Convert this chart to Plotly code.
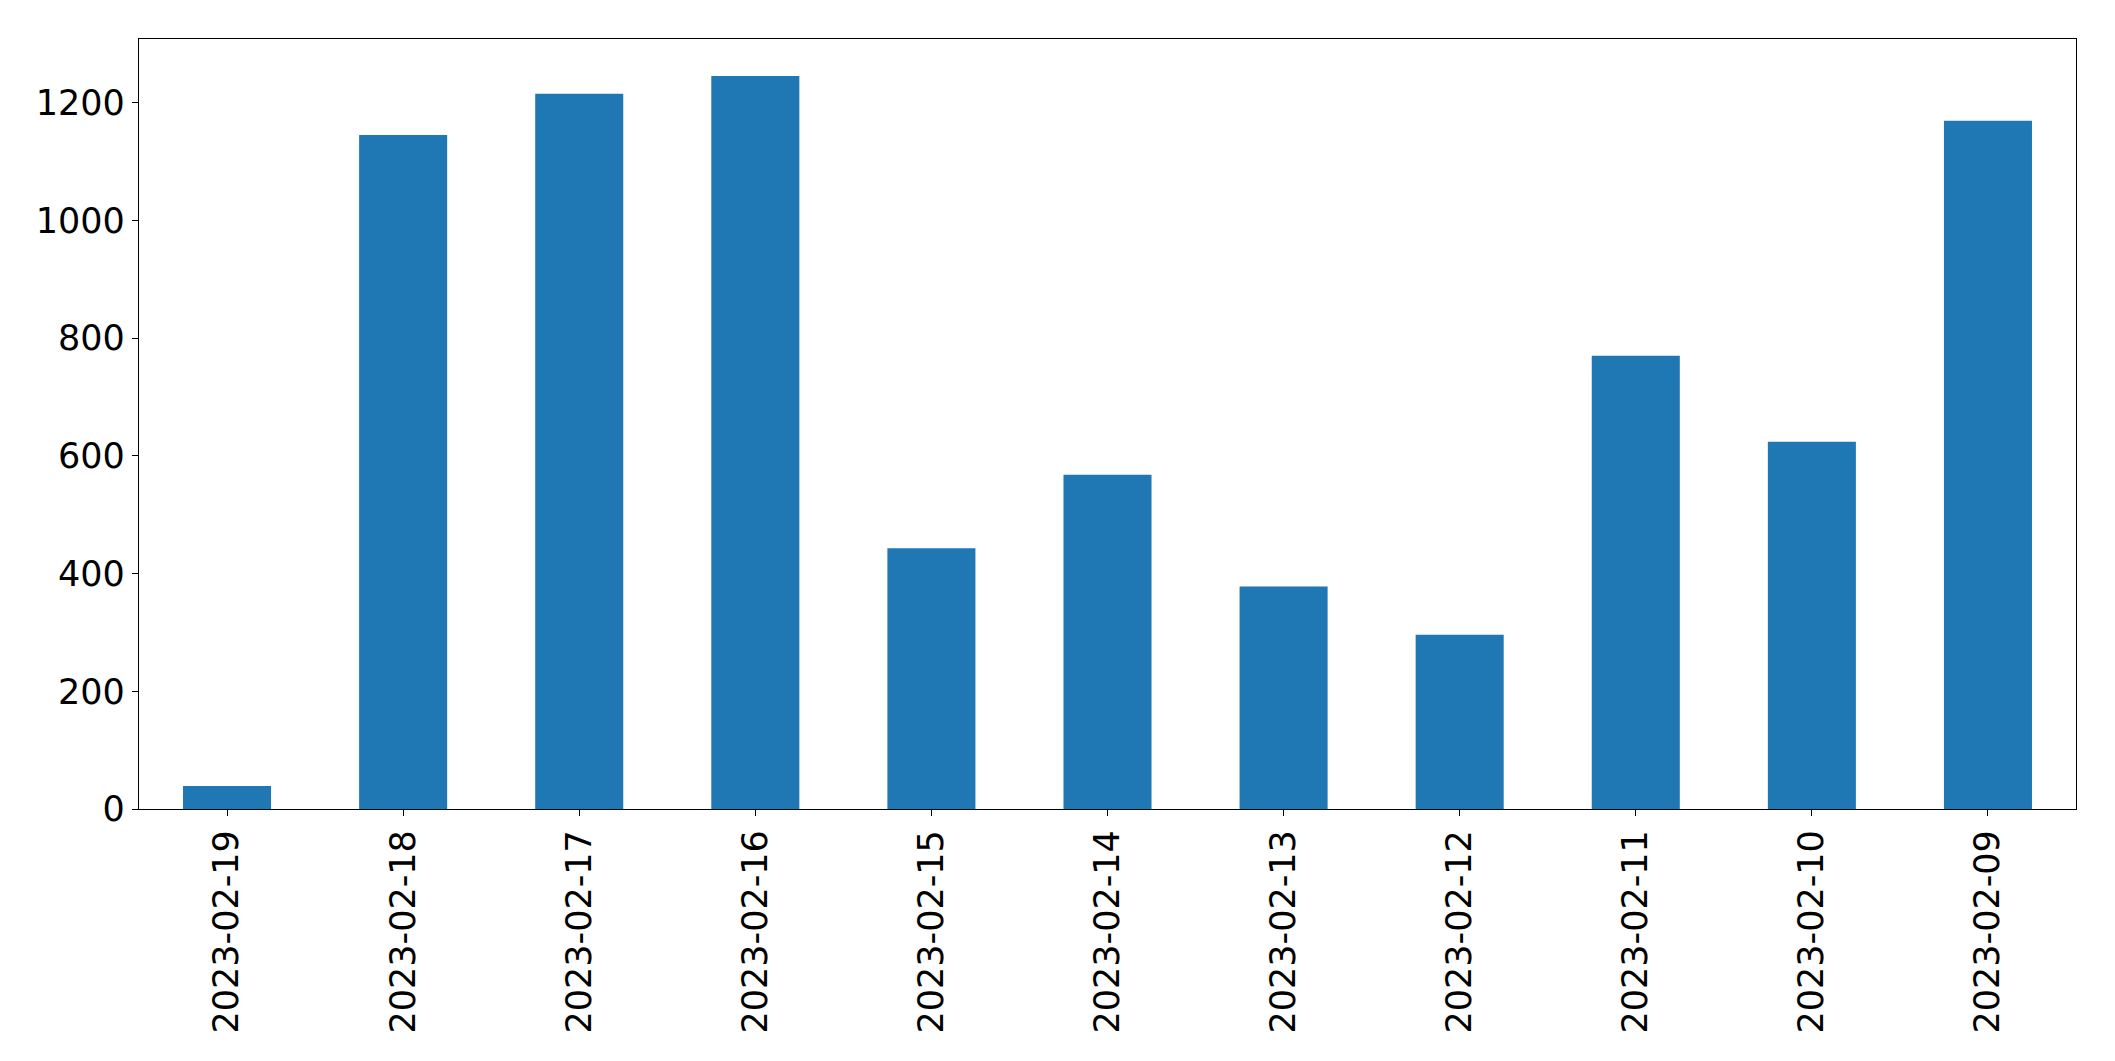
import plotly.graph_objects as go

dates = ["2023-02-19", "2023-02-18", "2023-02-17", "2023-02-16", "2023-02-15",
         "2023-02-14", "2023-02-13", "2023-02-12", "2023-02-11", "2023-02-10",
         "2023-02-09"]
counts = [39, 1145, 1215, 1245, 443, 568, 378, 296, 770, 624, 1169]
y_ticks = [0, 200, 400, 600, 800, 1000, 1200]

fig = go.Figure(go.Bar(x=dates, y=counts, marker_color="#1f77b4",
                       marker_line_width=0, width=0.5))

font = dict(family="DejaVu Sans", size=35, color="black")
# page body has an 8px default margin; compensate so the plot area lands
# at x 139..2076, y 39..809 in the window
fig.update_layout(
    width=2099, height=1045,
    margin=dict(l=131, r=31, t=31, b=244),
    paper_bgcolor="white", plot_bgcolor="white",
    showlegend=False,
    font=font,
)
fig.update_xaxes(type="category", range=[-0.5, len(dates) - 0.5],
                 showline=True, mirror=True, linecolor="black", linewidth=1.3,
                 ticks="outside", ticklen=6, tickwidth=1.3, tickcolor="black",
                 tickangle=-90, tickfont=font, showgrid=False)
fig.update_yaxes(range=[0, 1308], tickvals=y_ticks,
                 showline=True, mirror=True, linecolor="black", linewidth=1.3,
                 ticks="outside", ticklen=6, tickwidth=1.3, tickcolor="black",
                 tickfont=font, showgrid=False, zeroline=False)

fig.write_html("out.html")
